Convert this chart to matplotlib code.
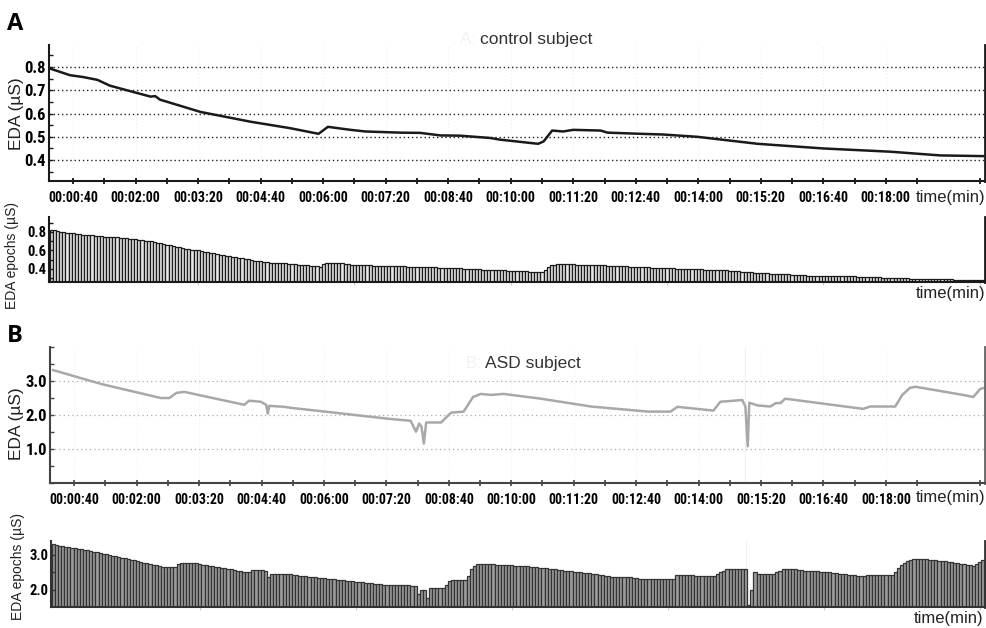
import matplotlib
matplotlib.use("Agg")
import matplotlib.pyplot as plt
from matplotlib import font_manager
from matplotlib.ticker import FixedLocator, FuncFormatter, MultipleLocator
import numpy as np

# ---- data (time in seconds) ----
# control subject, continuous EDA
A_t = [9, 36, 53, 71, 87, 109, 139, 145, 151, 203, 267, 318, 354, 366, 395, 414,
       459, 484, 510, 535, 574, 586, 635, 642, 653, 667, 680, 715, 724, 766, 795,
       839, 916, 1000, 1086, 1150, 1205]
A_eda = [0.795, 0.765, 0.757, 0.745, 0.72, 0.70, 0.673, 0.675, 0.66, 0.607, 0.565,
         0.537, 0.513, 0.543, 0.53, 0.523, 0.518, 0.517, 0.506, 0.505, 0.495, 0.488,
         0.47, 0.48, 0.527, 0.523, 0.53, 0.527, 0.518, 0.513, 0.51, 0.50, 0.47,
         0.45, 0.436, 0.42, 0.417]

# control subject, EDA epochs (4 s each, first epoch starts at 10 s)
A_epochs = [
    0.82, 0.82, 0.81, 0.80, 0.80, 0.79, 0.79, 0.79,
    0.78, 0.78, 0.77, 0.77, 0.77, 0.77, 0.76, 0.76, 0.76,
    0.75, 0.75, 0.75, 0.74, 0.74, 0.73, 0.73, 0.73, 0.72, 0.72, 0.72, 0.71, 0.71, 0.70, 0.70, 0.70,
    0.69, 0.68, 0.68, 0.67, 0.66, 0.66, 0.65, 0.64, 0.64, 0.63, 0.62, 0.62, 0.61, 0.60, 0.60, 0.59,
    0.58, 0.58, 0.57, 0.57, 0.56, 0.55, 0.55, 0.54, 0.54, 0.53, 0.53, 0.52, 0.52, 0.51, 0.51, 0.50,
    0.49, 0.49, 0.49, 0.48, 0.48, 0.47, 0.47, 0.47, 0.46, 0.46, 0.46, 0.45, 0.45, 0.45, 0.44, 0.44,
    0.44, 0.44, 0.43, 0.43, 0.43, 0.42,
    0.45, 0.47, 0.47,
    0.47, 0.46, 0.46, 0.46, 0.45, 0.45, 0.44,
    0.44, 0.44, 0.44, 0.44, 0.44, 0.44, 0.43, 0.43, 0.43, 0.43, 0.43, 0.43, 0.43, 0.43, 0.43, 0.43,
    0.43, 0.42, 0.42, 0.42, 0.42, 0.42, 0.42, 0.42, 0.42, 0.42, 0.42, 0.41, 0.41, 0.41, 0.41, 0.41,
    0.41, 0.41, 0.41, 0.40, 0.40, 0.40, 0.40, 0.40, 0.40, 0.39, 0.39, 0.39, 0.39,
    0.39, 0.39, 0.39, 0.39, 0.38, 0.38, 0.38, 0.38, 0.38, 0.38, 0.38, 0.37, 0.37, 0.37, 0.37, 0.37,
    0.39, 0.42, 0.44, 0.44,
    0.45, 0.45, 0.45, 0.45, 0.45, 0.45, 0.44, 0.44, 0.44, 0.44, 0.44, 0.44,
    0.44, 0.44, 0.44, 0.44, 0.43, 0.43, 0.43, 0.43, 0.43, 0.43, 0.43, 0.42, 0.42, 0.42, 0.42, 0.42, 0.42, 0.42, 0.41, 0.41, 0.41,
    0.41, 0.41, 0.41, 0.41, 0.41, 0.40, 0.40, 0.40, 0.40, 0.40, 0.40, 0.40, 0.40, 0.40, 0.39, 0.39, 0.39, 0.39, 0.39, 0.39, 0.39,
    0.39, 0.38, 0.38, 0.38, 0.38, 0.37, 0.37, 0.37, 0.37, 0.36, 0.36, 0.36, 0.36, 0.36, 0.35, 0.35, 0.35, 0.35, 0.35, 0.35, 0.35,
    0.34, 0.34, 0.34, 0.34, 0.34, 0.33, 0.33, 0.33, 0.33, 0.33, 0.33, 0.33, 0.32, 0.32, 0.32, 0.32, 0.32, 0.32, 0.32, 0.32, 0.32,
    0.31, 0.31, 0.31, 0.31, 0.31, 0.31, 0.31, 0.31, 0.30, 0.30, 0.30, 0.30, 0.30, 0.30, 0.30, 0.30, 0.30, 0.29, 0.29, 0.29, 0.29,
    0.29, 0.29, 0.29, 0.29, 0.29, 0.29, 0.29, 0.29, 0.29, 0.29, 0.28, 0.28, 0.28, 0.28, 0.28, 0.28, 0.28, 0.28, 0.28, 0.28,
]

# ASD subject, continuous EDA
B_t = [13, 75, 151, 162, 171, 181, 258, 264, 279, 286, 288, 290, 309, 318, 373,
       442, 471, 478, 482, 485, 488, 491, 510, 523, 539, 551, 561, 574, 590, 638,
       702, 775, 804, 813, 859, 868, 896, 900, 903, 905, 916, 932, 939, 945, 951,
       1051, 1060, 1092, 1101, 1111, 1118, 1179, 1192, 1201, 1207]
B_eda = [3.32, 2.91, 2.50, 2.50, 2.65, 2.68, 2.30, 2.42, 2.39, 2.30, 2.04, 2.27,
         2.24, 2.21, 2.07, 1.89, 1.83, 1.51, 1.75, 1.66, 1.16, 1.78, 1.78, 2.07,
         2.10, 2.53, 2.62, 2.59, 2.62, 2.48, 2.25, 2.10, 2.10, 2.24, 2.13, 2.39,
         2.44, 2.25, 1.08, 2.36, 2.28, 2.25, 2.35, 2.35, 2.48, 2.18, 2.25, 2.25,
         2.59, 2.80, 2.83, 2.59, 2.53, 2.77, 2.80]

# ASD subject, EDA epochs
B_epochs = [
    3.30, 3.29, 3.27, 3.26, 3.24, 3.23, 3.21, 3.20, 3.18, 3.16, 3.15, 3.13, 3.11, 3.09, 3.08, 3.06,
    3.04, 3.02, 3.00, 2.98, 2.96, 2.94, 2.92, 2.90, 2.88, 2.86, 2.84, 2.82, 2.80, 2.78, 2.76, 2.74, 2.72, 2.70, 2.68,
    2.66, 2.65, 2.64, 2.64, 2.66,
    2.74, 2.78, 2.78, 2.78, 2.78,
    2.77, 2.76, 2.74, 2.72, 2.71, 2.69, 2.68, 2.66, 2.65, 2.63, 2.62, 2.60, 2.58, 2.57, 2.55, 2.54, 2.52, 2.50,
    2.50, 2.57, 2.57, 2.57, 2.56, 2.55,
    2.36,
    2.44, 2.46, 2.46, 2.46, 2.46, 2.46,
    2.44, 2.42, 2.41, 2.40, 2.39, 2.38, 2.37, 2.36, 2.35, 2.34, 2.33, 2.33, 2.32, 2.31, 2.30,
    2.29, 2.28, 2.27, 2.26, 2.25, 2.24, 2.23, 2.22, 2.21, 2.20, 2.19, 2.18, 2.17, 2.16, 2.15, 2.14,
    2.14, 2.14, 2.13, 2.13, 2.13, 2.12, 2.12, 2.12, 2.11, 2.11,
    1.88, 2.00, 2.00, 1.76,
    2.05, 2.05, 2.05, 2.05, 2.05, 2.14,
    2.24, 2.29, 2.29, 2.29, 2.29, 2.29, 2.38,
    2.59, 2.69, 2.73, 2.73, 2.73, 2.73, 2.73, 2.73,
    2.70, 2.70, 2.70, 2.70, 2.70, 2.70, 2.69,
    2.69, 2.68, 2.67, 2.67, 2.66, 2.65, 2.64, 2.63, 2.62,
    2.61, 2.60, 2.59, 2.58, 2.57, 2.56, 2.55, 2.54, 2.53, 2.52, 2.51, 2.50, 2.49, 2.48, 2.47, 2.46,
    2.45, 2.43, 2.42, 2.40, 2.39, 2.37, 2.36, 2.36, 2.36, 2.36, 2.36,
    2.35, 2.34, 2.33, 2.32, 2.31,
    2.30, 2.30, 2.30, 2.30, 2.30, 2.30, 2.30, 2.30, 2.30, 2.30,
    2.41, 2.41, 2.41, 2.41, 2.41, 2.41,
    2.40, 2.39, 2.38, 2.38, 2.38, 2.38, 2.38,
    2.46, 2.52,
    2.55, 2.59, 2.59, 2.59, 2.59, 2.59, 2.59, 2.59,
    1.55, 1.98, 2.50,
    2.46, 2.46, 2.46, 2.46, 2.46, 2.46,
    2.50, 2.55,
    2.59, 2.59, 2.59, 2.59, 2.59,
    2.57, 2.56, 2.55, 2.55, 2.55, 2.54, 2.53, 2.52,
    2.52, 2.51, 2.50, 2.49, 2.48, 2.46, 2.45, 2.44, 2.43, 2.42, 2.41, 2.40, 2.38,
    2.38, 2.43, 2.43, 2.43, 2.43, 2.43, 2.43, 2.43,
    2.43, 2.43, 2.52, 2.62,
    2.70, 2.76, 2.82,
    2.86, 2.88, 2.88, 2.88, 2.88,
    2.87, 2.86, 2.85, 2.84, 2.83, 2.82, 2.81, 2.80, 2.79, 2.78, 2.76,
    2.75, 2.74, 2.72, 2.71, 2.69,
    2.74, 2.80, 2.86,
]

epoch_len = 4
epoch_start = 10
label_ticks = [40 + 80 * k for k in range(14)]
minor_ticks = [80 * k for k in range(1, 16)]

# ---- fonts ----
names = set(f.name for f in font_manager.fontManager.ttflist)
narrow = 'DejaVu Sans'
for n in ['Liberation Sans Narrow', 'Roboto Condensed', 'DejaVu Sans']:
    if n in names:
        narrow = n
        break
plain = 'Liberation Sans' if 'Liberation Sans' in names else 'DejaVu Sans'
plt.rcParams['font.family'] = [plain, 'DejaVu Sans']


def hms(s, pos):
    s = int(round(s))
    return "%02d:%02d:%02d" % (s // 3600, (s % 3600) // 60, s % 60)


W, H = 987, 628
fig = plt.figure(figsize=(W / 100, H / 100), dpi=100)


def px_axes(left, top, right, bottom):
    return fig.add_axes([left / W, 1 - bottom / H, (right - left) / W, (bottom - top) / H])


def style_common(ax, spine_col):
    ax.spines['top'].set_visible(False)
    for s in ['left', 'bottom', 'right']:
        ax.spines[s].set_color(spine_col)
    ax.spines['left'].set_linewidth(1.5)
    ax.spines['bottom'].set_linewidth(1.5)
    ax.spines['right'].set_linewidth(2)
    ax.set_xlim(9, 1207)
    ax.tick_params(axis='y', which='both', direction='in', length=3, width=1,
                   color=spine_col, pad=2)


# ---- A: control subject, line ----
ax1 = px_axes(49, 45, 985, 181)
ax1.plot(A_t, A_eda, color='#1a1a1a', lw=1.8)
ax1.set_ylim(0.31, 0.895)
ax1.yaxis.set_major_locator(FixedLocator([0.4, 0.5, 0.6, 0.7, 0.8]))
ax1.yaxis.set_minor_locator(MultipleLocator(0.05))
ax1.yaxis.set_major_formatter(FuncFormatter(lambda v, p: "%.1f" % v))
ax1.yaxis.grid(True, which='major', color='#222222', linestyle=(0, (1, 2)), lw=1)
for x in label_ticks:
    ax1.axvline(x, color='#eeeeee', lw=0.8, linestyle=(0, (1, 2)), zorder=0)
ax1.set_xticks(label_ticks)
ax1.xaxis.set_minor_locator(FixedLocator(minor_ticks))
ax1.xaxis.set_major_formatter(FuncFormatter(hms))
ax1.tick_params(axis='x', which='both', direction='inout', length=4, width=1.2, pad=5)
ax1.tick_params(axis='y', labelsize=12)
ax1.tick_params(axis='x', labelsize=10)
style_common(ax1, '#1a1a1a')
ax1.text(0.439, 1.044, "A:", transform=ax1.transAxes, fontsize=12.5,
         color='#f2f2f2', va='center', ha='left')
ax1.text(0.4605, 1.044, "control subject", transform=ax1.transAxes,
         fontsize=12.5, color='#333333', va='center', ha='left')
ax1.text(1.0, -0.118, "time(min)", transform=ax1.transAxes, fontsize=12,
         ha='right', va='center', color='#222222')

# ---- A: control subject, epochs ----
ax2 = px_axes(49, 217, 985, 282)
xa = epoch_start + epoch_len / 2 + epoch_len * np.arange(len(A_epochs))
ax2.bar(xa, A_epochs, width=epoch_len, color='#e6e6e6', edgecolor='#1a1a1a', lw=0.9)
ax2.set_ylim(0.26, 0.96)
ax2.yaxis.set_major_locator(FixedLocator([0.4, 0.6, 0.8]))
ax2.yaxis.set_minor_locator(FixedLocator([0.3, 0.5, 0.7, 0.9]))
ax2.yaxis.set_major_formatter(FuncFormatter(lambda v, p: "%.1f" % v))
ax2.set_xticks([200, 400, 600, 800, 1000, 1200])
ax2.set_xticklabels([])
ax2.tick_params(axis='x', direction='out', length=2, color='#cccccc')
ax2.tick_params(axis='y', labelsize=10.5)
style_common(ax2, '#1a1a1a')
ax2.text(1.0, -0.17, "time(min)", transform=ax2.transAxes, fontsize=12,
         ha='right', va='center', color='#222222')

# ---- B: ASD subject, line ----
ax3 = px_axes(50, 347, 985, 483)
ax3.plot(B_t, B_eda, color='#a8a8a8', lw=1.8)
ax3.set_ylim(0, 4)
ax3.yaxis.set_major_locator(FixedLocator([1.0, 2.0, 3.0]))
ax3.yaxis.set_minor_locator(MultipleLocator(0.5))
ax3.yaxis.set_major_formatter(FuncFormatter(lambda v, p: "%.1f" % v))
ax3.yaxis.grid(True, which='major', color='#aaaaaa', linestyle=(0, (1, 2.5)), lw=0.9)
for x in label_ticks:
    ax3.axvline(x, color='#f0f0f0', lw=0.8, linestyle=(0, (1, 2)), zorder=0)
ax3.axvline(900, color='#f0f0f0', lw=0.8, zorder=0)
ax3.set_xticks(label_ticks)
ax3.xaxis.set_minor_locator(FixedLocator(minor_ticks))
ax3.xaxis.set_major_formatter(FuncFormatter(hms))
ax3.tick_params(axis='x', which='both', direction='inout', length=4, width=1.2, pad=5,
                color='#444444')
ax3.tick_params(axis='y', labelsize=12)
ax3.tick_params(axis='x', labelsize=10)
style_common(ax3, '#444444')
ax3.spines['right'].set_color('#666666')
ax3.text(0.444, 0.882, "B:", transform=ax3.transAxes, fontsize=12.5,
         color='#f2f2f2', va='center', ha='left')
ax3.text(0.465, 0.882, "ASD subject", transform=ax3.transAxes,
         fontsize=12.5, color='#333333', va='center', ha='left')
ax3.text(1.0, -0.11, "time(min)", transform=ax3.transAxes, fontsize=12,
         ha='right', va='center', color='#222222')

# ---- B: ASD subject, epochs ----
ax4 = px_axes(51, 541, 985, 607)
xb = epoch_start + epoch_len / 2 + epoch_len * np.arange(len(B_epochs))
ax4.bar(xb, B_epochs, width=epoch_len, color='#9c9c9c', edgecolor='#333333', lw=0.9)
ax4.set_ylim(1.5, 3.4)
ax4.yaxis.set_major_locator(FixedLocator([2.0, 3.0]))
ax4.yaxis.set_minor_locator(FixedLocator([2.5]))
ax4.yaxis.set_major_formatter(FuncFormatter(lambda v, p: "%.1f" % v))
ax4.axvline(900, color='#f0f0f0', lw=0.8, zorder=0)
ax4.set_xticks([200, 400, 600, 800, 1000, 1200])
ax4.set_xticklabels([])
ax4.tick_params(axis='x', direction='out', length=2, color='#cccccc')
ax4.tick_params(axis='y', labelsize=10.5)
style_common(ax4, '#333333')
ax4.text(0.998, -0.18, "time(min)", transform=ax4.transAxes, fontsize=12,
         ha='right', va='center', color='#222222')

# tick label fonts: narrow bold
for ax in [ax1, ax2, ax3, ax4]:
    for lab in ax.get_yticklabels() + ax.get_xticklabels():
        lab.set_fontfamily(narrow)
        lab.set_fontweight('bold')

# ---- axis titles and panel letters ----
fig.text(16.5 / W, 1 - 114 / H, "EDA (µS)", rotation=90, ha='center', va='center',
         fontsize=12.5, color='#222222')
fig.text(12 / W, 1 - 255 / H, "EDA epochs (µS)", rotation=90, ha='center', va='center',
         fontsize=10, color='#222222')
fig.text(17 / W, 1 - 424 / H, "EDA (µS)", rotation=90, ha='center', va='center',
         fontsize=12.5, color='#222222')
fig.text(18 / W, 1 - 566 / H, "EDA epochs (µS)", rotation=90, ha='center', va='center',
         fontsize=10, color='#222222')
fig.text(15 / W, 1 - 24 / H, "A", fontsize=17, fontweight='bold', ha='center', va='center',
         family=['Open Sans', 'DejaVu Sans'])
fig.text(15 / W, 1 - 336 / H, "B", fontsize=17, fontweight='bold', ha='center', va='center',
         family=['Open Sans', 'DejaVu Sans'])

plt.savefig("out.png", dpi=100)
